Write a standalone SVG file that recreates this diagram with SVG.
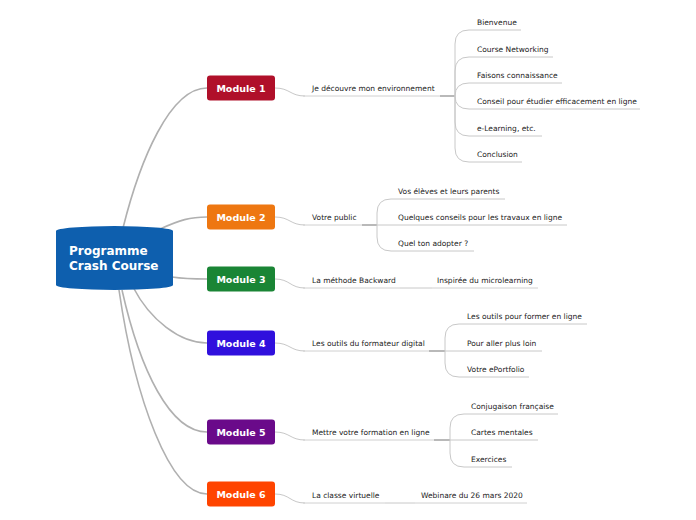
<svg xmlns="http://www.w3.org/2000/svg" width="696" height="520" viewBox="0 0 696 520">
<style>
.main{fill:none;stroke:#b0b0b0;stroke-width:1.6}
.sub{fill:none;stroke:#c8c8c8;stroke-width:1}
.ul{fill:none;stroke:#d0d0d0;stroke-width:1}
.jn{fill:none;stroke:#a8a8a8;stroke-width:1.6}
.mod{stroke:none}
.mt{font-family:"DejaVu Sans",Verdana,sans-serif;font-size:9.5px;font-weight:bold;fill:#fff;text-anchor:middle}
.ct{font-family:"DejaVu Sans",Verdana,sans-serif;font-size:12px;font-weight:bold;fill:#fff}
.t{font-family:"DejaVu Sans",Verdana,sans-serif;font-size:7.5px;fill:#222}
</style>
<rect width="696" height="520" fill="#fff"/>
<g id="connectors">
<path class="main" d="M123,228 C140,160 170,88 207,88"/>
<path class="main" d="M160,229 C180,220 190,217 207,217"/>
<path class="main" d="M172,277 C185,279 195,279 207,279"/>
<path class="main" d="M133,287 C150,320 180,343 207,343"/>
<path class="main" d="M122,290 C140,370 170,432 207,432"/>
<path class="main" d="M119,290 C135,400 170,494 207,494"/>
<path class="sub" d="M275,88 C290,88 290,96 305,96"/>
<path class="sub" d="M275,217 C290,217 290,225 305,225"/>
<path class="sub" d="M275,279 C290,279 290,288 305,288"/>
<path class="sub" d="M275,343 C290,343 290,351 305,351"/>
<path class="sub" d="M275,432 C290,432 290,440 305,440"/>
<path class="sub" d="M275,494 C290,494 290,503 305,503"/>
<path class="ul" d="M303,96 L440,96"/>
<path class="jn" d="M440,96 L455,96"/>
<path class="sub" d="M455,96 L455,44 Q455,30 469,30 L521,30"/>
<path class="sub" d="M455,96 L455,71 Q455,57 469,57 L553,57"/>
<path class="sub" d="M455,96 Q455,83 469,83 L562,83"/>
<path class="sub" d="M455,96 Q455,109 469,109 L640,109"/>
<path class="sub" d="M455,96 L455,122 Q455,136 469,136 L542,136"/>
<path class="sub" d="M455,96 L455,148 Q455,162 469,162 L522,162"/>
<path class="ul" d="M303,225 L362,225"/>
<path class="jn" d="M362,225 L377,225"/>
<path class="sub" d="M377,225 L377,213 Q377,199 391,199 L505,199"/>
<path class="sub" d="M377,225 L567,225"/>
<path class="sub" d="M377,225 L377,237 Q377,251 391,251 L474,251"/>
<path class="ul" d="M303,288 L400,288"/>
<path class="sub" d="M400,288 L432,288"/>
<path class="ul" d="M432,288 L538,288"/>
<path class="ul" d="M303,351 L429,351"/>
<path class="jn" d="M429,351 L445,351"/>
<path class="sub" d="M445,351 L445,338 Q445,324 459,324 L587,324"/>
<path class="sub" d="M445,351 L542,351"/>
<path class="sub" d="M445,351 L445,363 Q445,377 459,377 L529,377"/>
<path class="ul" d="M303,440 L434,440"/>
<path class="jn" d="M434,440 L450,440"/>
<path class="sub" d="M450,440 L450,428 Q450,414 464,414 L558,414"/>
<path class="sub" d="M450,440 L538,440"/>
<path class="sub" d="M450,440 L450,453 Q450,467 464,467 L512,467"/>
<path class="ul" d="M303,503 L385,503"/>
<path class="sub" d="M385,503 L415,503"/>
<path class="ul" d="M415,503 L527,503"/>
</g>
<g id="central">
<path d="M56,231 A58.5,5 0 0 1 173,231 L173,285 A58.5,5 0 0 1 56,285 Z" fill="#0e5fae"/>
<text class="ct" x="69" y="255">Programme</text>
<text class="ct" x="69" y="270">Crash Course</text>
</g>
<g id="module1"><rect class="mod" x="207" y="75.5" width="68" height="25" rx="3" fill="#b0102a"/><text class="mt" x="241" y="91.5">Module 1</text></g>
<g id="module2"><rect class="mod" x="207" y="204.5" width="68" height="25" rx="3" fill="#ee7711"/><text class="mt" x="241" y="220.5">Module 2</text></g>
<g id="module3"><rect class="mod" x="207" y="266.5" width="68" height="25" rx="3" fill="#1a8535"/><text class="mt" x="241" y="282.5">Module 3</text></g>
<g id="module4"><rect class="mod" x="207" y="330.5" width="68" height="25" rx="3" fill="#3010dd"/><text class="mt" x="241" y="346.5">Module 4</text></g>
<g id="module5"><rect class="mod" x="207" y="419.5" width="68" height="25" rx="3" fill="#6a0a8a"/><text class="mt" x="241" y="435.5">Module 5</text></g>
<g id="module6"><rect class="mod" x="207" y="481.5" width="68" height="25" rx="3" fill="#ff4400"/><text class="mt" x="241" y="497.5">Module 6</text></g>
<g id="topic1"><text class="t" x="312" y="90.5">Je découvre mon environnement</text></g>
<g id="c1a"><text class="t" x="477" y="24.5">Bienvenue</text></g>
<g id="c1b"><text class="t" x="477" y="51.5">Course Networking</text></g>
<g id="c1c"><text class="t" x="477" y="77.5">Faisons connaissance</text></g>
<g id="c1d"><text class="t" x="477" y="103.5">Conseil pour étudier efficacement en ligne</text></g>
<g id="c1e"><text class="t" x="477" y="130.5">e-Learning, etc.</text></g>
<g id="c1f"><text class="t" x="477" y="156.5">Conclusion</text></g>
<g id="topic2"><text class="t" x="312" y="219.5">Votre public</text></g>
<g id="c2a"><text class="t" x="398" y="193.5">Vos élèves et leurs parents</text></g>
<g id="c2b"><text class="t" x="398" y="219.5">Quelques conseils pour les travaux en ligne</text></g>
<g id="c2c"><text class="t" x="398" y="245.5">Quel ton adopter ?</text></g>
<g id="topic3"><text class="t" x="312" y="282.5">La méthode Backward</text></g>
<g id="c3a"><text class="t" x="437" y="282.5">Inspirée du microlearning</text></g>
<g id="topic4"><text class="t" x="312" y="345.5">Les outils du formateur digital</text></g>
<g id="c4a"><text class="t" x="467" y="318.5">Les outils pour former en ligne</text></g>
<g id="c4b"><text class="t" x="467" y="345.5">Pour aller plus loin</text></g>
<g id="c4c"><text class="t" x="467" y="371.5">Votre ePortfolio</text></g>
<g id="topic5"><text class="t" x="312" y="434.5">Mettre votre formation en ligne</text></g>
<g id="c5a"><text class="t" x="471" y="408.5">Conjugaison française</text></g>
<g id="c5b"><text class="t" x="471" y="434.5">Cartes mentales</text></g>
<g id="c5c"><text class="t" x="471" y="461.5">Exercices</text></g>
<g id="topic6"><text class="t" x="312" y="497.5">La classe virtuelle</text></g>
<g id="c6a"><text class="t" x="421" y="497.5">Webinare du 26 mars 2020</text></g>
</svg>
